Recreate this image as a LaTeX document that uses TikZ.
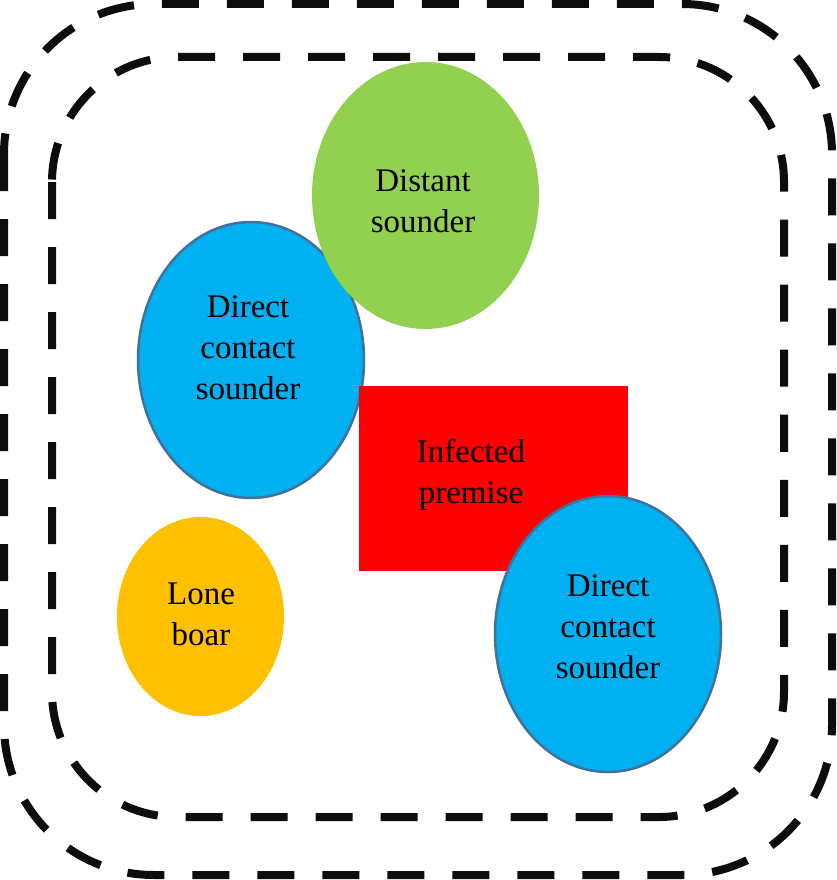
\documentclass[tikz,border=0pt]{standalone}
\usepackage{fontspec}
\setmainfont{Liberation Serif}
\usetikzlibrary{shapes.geometric}
\definecolor{cgreen}{HTML}{92D050}
\definecolor{cblue}{HTML}{00B0F0}
\definecolor{cblueline}{HTML}{41719C}
\definecolor{corange}{HTML}{FFC000}
\definecolor{cred}{HTML}{FF0000}
\begin{document}
\begin{tikzpicture}[x=1pt,y=-1pt,
  zone/.style={draw=black!95, line width=8pt, dash pattern=on 37pt off 28pt},
  blob/.style={ellipse, inner sep=0pt, outer sep=0pt},
  lbl/.style={align=center, font=\fontsize{33}{41}\selectfont, inner sep=0pt},
]
\useasboundingbox (0,0) rectangle (836,880);
\draw[zone, rounded corners=150pt] (4,4) rectangle (832,875);
\draw[zone, rounded corners=125pt] (52,57) rectangle (784,817);

\node[blob, fill=cblue, draw=cblueline, line width=2.5pt, minimum width=226pt, minimum height=276pt] (dcl) at (251,360) {};
\node[blob, fill=cgreen, minimum width=227pt, minimum height=267pt] (ds) at (425.5,195.5) {};
\node[fill=cred, inner sep=0pt, minimum width=269pt, minimum height=185pt] (ip) at (493.5,478.5) {};
\node[blob, fill=cblue, draw=cblueline, line width=2.5pt, minimum width=226pt, minimum height=276pt] (dcr) at (608,634) {};
\node[blob, fill=corange, minimum width=167pt, minimum height=199pt] (lb) at (200.5,616.5) {};

\node[lbl] (tds) at (423,201) {Distant\\sounder};
\node[lbl] (tdcl) at (248,348) {Direct\\contact\\sounder};
\node[lbl] (tip) at (471,475) {Infected\\premise};
\node[lbl] (tdcr) at (608,627) {Direct\\contact\\sounder};
\node[lbl] (tlb) at (201,614) {Lone\\boar};
\end{tikzpicture}
\end{document}
